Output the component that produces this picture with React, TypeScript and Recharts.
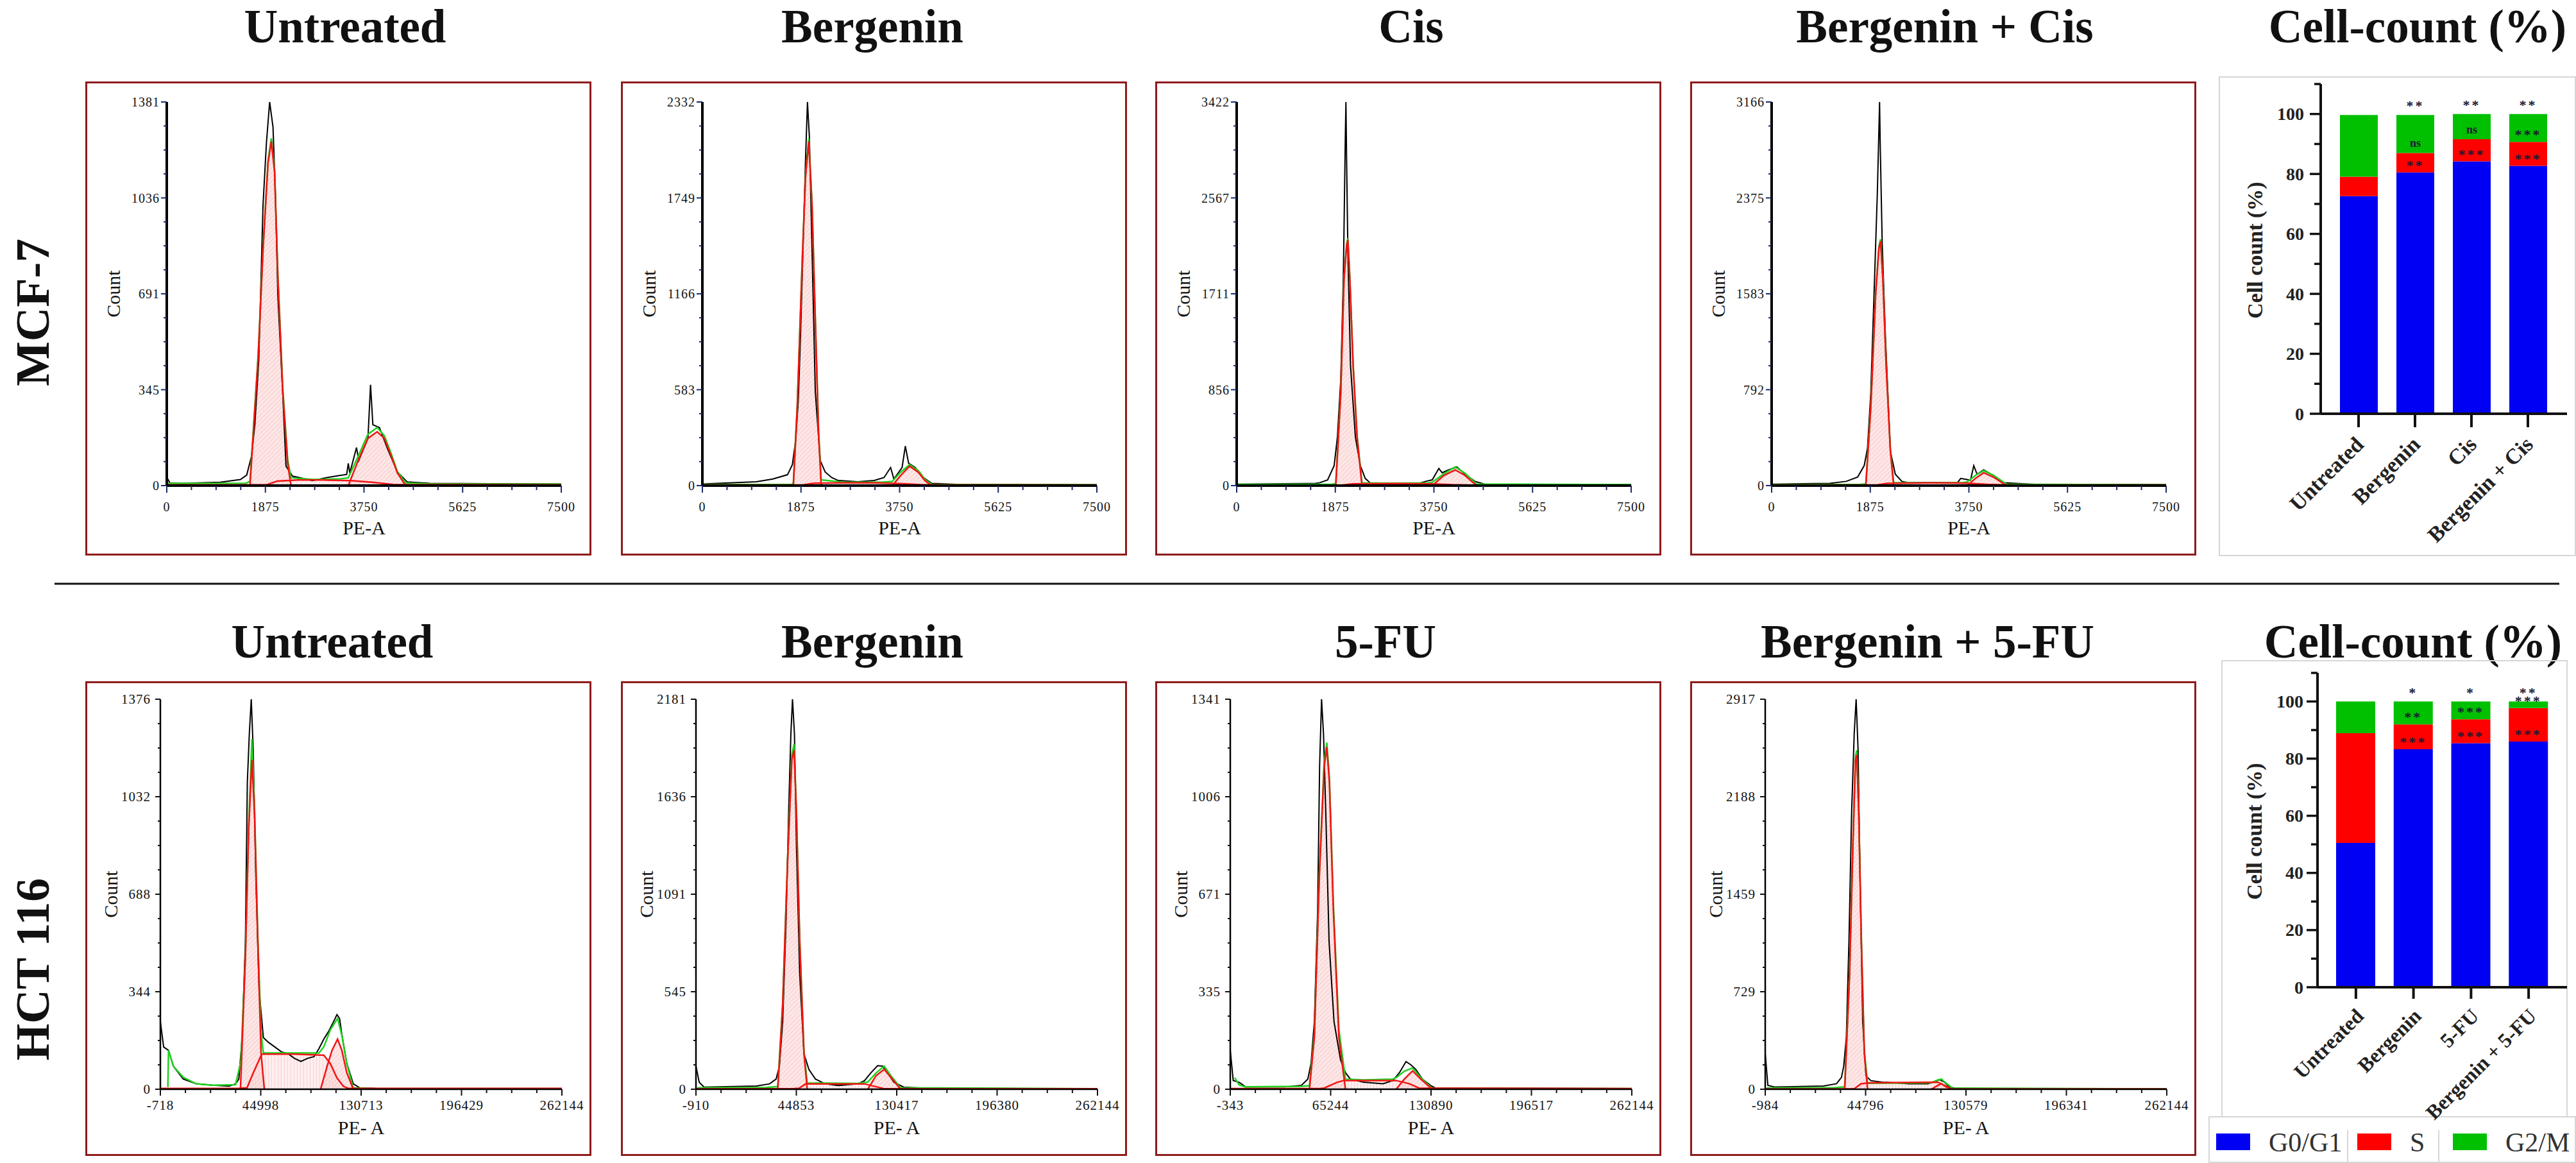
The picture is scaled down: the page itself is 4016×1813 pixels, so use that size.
import React from 'react'
import {
  ComposedChart,
  Area,
  Line,
  XAxis,
  YAxis,
  BarChart,
  Bar,
  LabelList,
} from 'recharts'

type Pt = [number, number]

const SERIF = "'Liberation Serif', 'Times New Roman', serif"
const BLUE = '#0000f2'
const RED = '#ff0000'
const GREEN = '#00c000'
const FIT_RED = '#f01515'
const FIT_GREEN = '#20d020'
const FRAME = '#8e1b1b'

// ---------- MCF-7 cell-cycle histograms (PE-A 0 – 7500) ----------
const mcfXLabels = ['0', '1875', '3750', '5625', '7500']

const mcfUntreatedY = ['0', '345', '691', '1036', '1381']
const mcfUntreatedRaw: Pt[] = [[0, 30], [60, 10], [300, 8], [1020, 12], [1400, 22], [1520, 38], [1610, 105], [1675, 220], [1750, 455], [1830, 1010], [1895, 1235], [1956, 1381], [2020, 1290], [2068, 1036], [2112, 680], [2205, 330], [2267, 70], [2390, 34], [2520, 29], [2770, 18], [3015, 28], [3265, 36], [3420, 40], [3451, 80], [3480, 45], [3607, 137], [3650, 90], [3825, 170], [3874, 363], [3918, 219], [4043, 209], [4198, 132], [4385, 49], [4572, 13], [5000, 8], [7500, 6]]
const mcfUntreatedFit: Pt[] = [[0, 8], [1500, 8], [1582, 15], [1738, 470], [1831, 860], [1925, 1170], [1987, 1250], [2049, 1140], [2112, 760], [2205, 350], [2298, 95], [2361, 28], [2800, 22], [3300, 24], [3451, 28], [3638, 105], [3825, 185], [4000, 209], [4136, 180], [4261, 118], [4385, 50], [4541, 10], [5000, 6], [7500, 5]]
const mcfUntreatedG1: Pt[] = [[1582, 0], [1738, 461], [1831, 852], [1925, 1161], [1987, 1239], [2049, 1131], [2112, 750], [2205, 340], [2298, 80], [2361, 0]]
const mcfUntreatedS: Pt[] = [[0, 3], [1900, 3], [2100, 16], [2500, 20], [3000, 20], [3500, 18], [3900, 12], [4300, 4], [7500, 3]]
const mcfUntreatedG2: Pt[] = [[3451, 0], [3638, 90], [3825, 170], [4000, 194], [4136, 170], [4261, 110], [4385, 45], [4541, 0]]

const mcfBergeninY = ['0', '583', '1166', '1749', '2332']
const mcfBergeninRaw: Pt[] = [[0, 10], [1027, 23], [1338, 40], [1618, 66], [1711, 127], [1774, 275], [1824, 518], [1867, 918], [1929, 1614], [1961, 1979], [1998, 2332], [2035, 2118], [2085, 1440], [2147, 570], [2241, 153], [2334, 83], [2458, 49], [2583, 31], [2956, 23], [3268, 31], [3454, 49], [3579, 110], [3641, 40], [3797, 110], [3859, 240], [3921, 136], [4046, 110], [4201, 49], [4357, 14], [5000, 6], [7500, 5]]
const mcfBergeninFit: Pt[] = [[0, 6], [1700, 8], [1730, 15], [1805, 495], [1898, 1365], [1961, 1890], [2023, 2110], [2085, 1715], [2147, 1020], [2210, 325], [2259, 35], [2700, 20], [3400, 20], [3610, 25], [3766, 80], [3940, 127], [4108, 90], [4232, 38], [4357, 8], [7500, 5]]
const mcfBergeninG1: Pt[] = [[1730, 0], [1805, 483], [1898, 1353], [1961, 1875], [2023, 2092], [2085, 1701], [2147, 1005], [2210, 310], [2259, 0]]
const mcfBergeninS: Pt[] = [[0, 4], [1900, 4], [2100, 14], [2600, 17], [3300, 17], [3800, 12], [4200, 5], [7500, 4]]
const mcfBergeninG2: Pt[] = [[3610, 0], [3766, 60], [3940, 118], [4108, 80], [4232, 30], [4357, 0]]

const mcfCisY = ['0', '856', '1711', '2567', '3422']
const mcfCisRaw: Pt[] = [[0, 13], [1500, 20], [1573, 25], [1729, 51], [1853, 178], [1915, 433], [1978, 943], [2027, 1836], [2065, 3100], [2077, 3422], [2090, 2900], [2114, 2091], [2164, 1071], [2257, 433], [2351, 178], [2444, 64], [2537, 25], [2662, 20], [3470, 20], [3595, 38], [3719, 51], [3843, 153], [3906, 115], [4030, 140], [4185, 166], [4341, 102], [4528, 38], [4714, 13], [7500, 8]]
const mcfCisFit: Pt[] = [[0, 10], [1800, 12], [1884, 18], [1978, 830], [2040, 1850], [2090, 2155], [2114, 2206], [2152, 1850], [2214, 1085], [2289, 445], [2382, 25], [3000, 20], [3650, 25], [3719, 30], [3937, 105], [4154, 166], [4341, 110], [4559, 15], [7500, 8]]
const mcfCisG1: Pt[] = [[1884, 0], [1978, 816], [2040, 1836], [2090, 2142], [2114, 2193], [2152, 1836], [2214, 1071], [2289, 433], [2382, 0]]
const mcfCisS: Pt[] = [[0, 5], [2000, 5], [2200, 16], [3000, 18], [3700, 16], [4100, 8], [4500, 5], [7500, 5]]
const mcfCisG2: Pt[] = [[3719, 0], [3937, 90], [4154, 140], [4341, 90], [4559, 0]]

const mcfComboY = ['0', '792', '1583', '2375', '3166']
const mcfComboRaw: Pt[] = [[0, 12], [1107, 19], [1418, 35], [1636, 71], [1760, 165], [1822, 307], [1884, 755], [1947, 1581], [2009, 2406], [2040, 2950], [2052, 3166], [2065, 2800], [2102, 2000], [2164, 1227], [2258, 283], [2351, 94], [2475, 35], [2600, 24], [3532, 24], [3595, 59], [3781, 45], [3843, 165], [3906, 94], [4030, 130], [4217, 83], [4403, 24], [5000, 10], [7500, 8]]
const mcfComboFit: Pt[] = [[0, 8], [1700, 10], [1791, 15], [1884, 650], [1978, 1600], [2040, 1975], [2071, 2033], [2115, 1715], [2177, 1005], [2258, 295], [2320, 25], [3000, 22], [3650, 25], [3719, 30], [3875, 85], [4030, 123], [4217, 85], [4465, 12], [7500, 6]]
const mcfComboG1: Pt[] = [[1791, 0], [1884, 637], [1978, 1581], [2040, 1958], [2071, 2017], [2115, 1699], [2177, 991], [2258, 283], [2320, 0]]
const mcfComboS: Pt[] = [[0, 5], [2000, 5], [2200, 18], [3000, 22], [3700, 20], [4100, 10], [4500, 5], [7500, 5]]
const mcfComboG2: Pt[] = [[3719, 0], [3875, 60], [4030, 106], [4217, 70], [4465, 0]]

// ---------- HCT 116 cell-cycle histograms (PE-A up to 262144) ----------
const hctUntreatedX = ['-718', '44998', '130713', '196429', '262144']
const hctUntreatedY = ['0', '344', '688', '1032', '1376']
const hctUntreatedRaw: Pt[] = [[-718, 239], [1423, 149], [4633, 137], [7844, 81], [14266, 36], [22829, 19], [33532, 14], [44235, 11], [48516, 19], [50656, 36], [52797, 182], [54938, 520], [56222, 1083], [57506, 1252], [58791, 1376], [60075, 1196], [61787, 745], [63928, 351], [66710, 182], [69921, 166], [74203, 149], [78484, 132], [82765, 126], [87047, 109], [91328, 98], [95609, 109], [99890, 115], [103101, 143], [106312, 177], [109523, 205], [112734, 239], [114875, 263], [116587, 250], [118086, 194], [121297, 92], [125578, 19], [129859, 5], [140000, 3], [262144, 2]]
const hctUntreatedFit: Pt[] = [[4200, 8], [4633, 137], [7844, 81], [14266, 42], [22829, 19], [33532, 14], [48516, 16], [52000, 100], [54938, 470], [57079, 930], [59220, 1235], [60931, 990], [63072, 540], [65212, 200], [66710, 128], [87047, 128], [103101, 128], [106312, 150], [110593, 210], [115303, 250], [118086, 190], [121297, 90], [125578, 5], [140000, 2], [262144, 2]]
const hctUntreatedG1: Pt[] = [[51726, 0], [54938, 464], [57079, 914], [59220, 1162], [60931, 972], [63072, 520], [65212, 126], [67353, 0]]
const hctUntreatedS: Pt[] = [[-718, 3], [50000, 3], [55994, 5], [60286, 60], [65640, 124], [87047, 124], [106312, 120], [110593, 90], [114875, 40], [119156, 10], [122367, 3], [262144, 3]]
const hctUntreatedG2: Pt[] = [[104171, 0], [108453, 81], [111664, 137], [115303, 177], [118086, 137], [121297, 59], [125578, 0]]

const hctBergeninX = ['-910', '44853', '130417', '196380', '262144']
const hctBergeninY = ['0', '545', '1091', '1636', '2181']
const hctBergeninRaw: Pt[] = [[-910, 129], [1234, 39], [4450, 12], [38754, 18], [47330, 30], [51618, 57], [53762, 129], [55906, 378], [58050, 914], [59765, 1539], [61266, 1985], [62338, 2181], [63624, 1985], [64911, 1360], [67055, 646], [69842, 200], [73058, 111], [77346, 57], [83778, 30], [92354, 21], [105218, 30], [109506, 48], [113794, 93], [118082, 132], [121298, 129], [124514, 93], [128802, 39], [135234, 12], [150000, 5], [262144, 3]]
const hctBergeninFit: Pt[] = [[0, 8], [45000, 10], [52690, 15], [55906, 480], [59122, 1290], [61909, 1870], [63410, 1931], [64911, 1560], [67055, 840], [69842, 215], [71986, 35], [105000, 32], [111650, 40], [117010, 90], [122370, 129], [127730, 65], [133090, 8], [262144, 3]]
const hctBergeninG1: Pt[] = [[52690, 0], [55906, 468], [59122, 1271], [61909, 1842], [63410, 1896], [64911, 1539], [67055, 825], [69842, 200], [71986, 0]]
const hctBergeninS: Pt[] = [[-910, 3], [62000, 3], [66626, 5], [70914, 30], [109506, 30], [118082, 12], [122370, 3], [262144, 3]]
const hctBergeninG2: Pt[] = [[111650, 0], [117010, 75], [122370, 111], [127730, 57], [133090, 0]]

const hctFuX = ['-343', '65244', '130890', '196517', '262144']
const hctFuY = ['0', '335', '671', '1006', '1341']
const hctFuRaw: Pt[] = [[-343, 134], [1582, 30], [5432, 24], [9710, 8], [35378, 8], [46073, 13], [50351, 35], [52490, 90], [54629, 233], [56768, 617], [58052, 1110], [59335, 1341], [60619, 1220], [62116, 946], [64255, 507], [67464, 233], [71742, 101], [74950, 57], [78159, 35], [86715, 24], [99549, 19], [105966, 30], [110244, 57], [114522, 95], [117731, 84], [120939, 68], [125217, 35], [130565, 13], [133773, 4], [262144, 2]]
const hctFuFit: Pt[] = [[2500, 40], [5432, 15], [9710, 8], [46073, 10], [51421, 12], [54629, 190], [57838, 740], [61046, 1125], [62757, 1192], [64468, 1070], [67036, 640], [70672, 205], [74950, 35], [86715, 32], [105966, 35], [108104, 40], [113451, 62], [118799, 73], [124146, 40], [131633, 3], [262144, 2]]
const hctFuG1: Pt[] = [[51421, 0], [54629, 178], [57838, 726], [61046, 1110], [62757, 1176], [64468, 1055], [67036, 617], [70672, 178], [74950, 0]]
const hctFuS: Pt[] = [[-343, 2], [58000, 2], [61046, 4], [69602, 24], [73880, 30], [108104, 30], [116660, 19], [123077, 4], [262144, 2]]
const hctFuG2: Pt[] = [[108104, 0], [113451, 35], [118799, 63], [124146, 35], [131633, 0]]

const hctComboX = ['-984', '44796', '130579', '196341', '262144']
const hctComboY = ['0', '729', '1459', '2188', '2917']
const hctComboRaw: Pt[] = [[-984, 267], [730, 29], [5016, 17], [37161, 24], [45733, 41], [48947, 88], [50447, 172], [52162, 387], [53876, 1103], [55591, 2058], [57305, 2654], [58591, 2917], [59877, 2535], [61163, 1580], [62877, 506], [65020, 100], [68231, 64], [75731, 53], [84303, 48], [92875, 41], [105733, 41], [110019, 57], [113233, 72], [116448, 53], [119662, 17], [125020, 5], [262144, 3]]
const hctComboFit: Pt[] = [[0, 10], [45000, 12], [51090, 18], [54305, 880], [56448, 1840], [58162, 2490], [59019, 2535], [60305, 2080], [62019, 1120], [63948, 290], [66091, 45], [107880, 48], [112162, 70], [114449, 76], [117519, 45], [121805, 8], [262144, 3]]
const hctComboG1: Pt[] = [[51090, 0], [54305, 864], [56448, 1819], [58162, 2463], [59019, 2499], [60305, 2058], [62019, 1103], [63948, 267], [66091, 0]]
const hctComboS: Pt[] = [[-984, 3], [56000, 3], [57520, 5], [61806, 41], [67163, 48], [112162, 53], [116448, 29], [120734, 3], [262144, 3]]
const hctComboG2: Pt[] = [[107880, 0], [112162, 29], [114449, 41], [117519, 17], [121805, 0]]

// ---------- stacked phase distribution (%) ----------
const mcfGroups = ['Untreated', 'Bergenin', 'Cis', 'Bergenin + Cis']
const mcfG1 = [72.6, 80.5, 84.2, 82.7]
const mcfS = [6.5, 6.5, 7.4, 8.0]
const mcfG2 = [20.6, 12.7, 8.4, 9.3]
const mcfSSig = ['', '**', '***', '***']
const mcfG2Sig = ['', 'ns', 'ns', '***']
const mcfTopSig = ['', '**', '**', '**']

const hctGroups = ['Untreated', 'Bergenin', '5-FU', 'Bergenin + 5-FU']
const hctG1 = [50.5, 83.3, 85.4, 86.0]
const hctS = [38.4, 8.7, 8.4, 11.7]
const hctG2 = [11.1, 8.0, 6.2, 2.3]
const hctSSig = ['', '***', '***', '***']
const hctG2Sig = ['', '**', '***', '***']
const hctTopSig = ['', '*', '*', '**']

const barTicks = [0, 10, 20, 30, 40, 50, 60, 70, 80, 90, 100, 110]
const legendItems = [
  { label: 'G0/G1', color: BLUE },
  { label: 'S', color: RED },
  { label: 'G2/M', color: GREEN },
]

const mcfTitles = ['Untreated', 'Bergenin', 'Cis', 'Bergenin + Cis', 'Cell-count (%)']
const hctTitles = ['Untreated', 'Bergenin', '5-FU', 'Bergenin + 5-FU', 'Cell-count (%)']

// ---------- layout ----------
interface PanelLayout {
  top: number
  w: number
  h: number
  plotLeft: number
  plotTop: number
  plotW: number
  plotH: number
  tickColor: string
  axisWidth: number
  tickFont: number
  xLabelGap: number
  yLabelGap: number
  majorTick: number
  minorTick: number
  countX: number
  xTitleGap: number
  xTitle: string
}

const ROW1: PanelLayout = {
  top: 127, w: 789, h: 739, plotLeft: 127, plotTop: 32, plotW: 615, plotH: 598,
  tickColor: '#1b2a6b', axisWidth: 4, tickFont: 20, xLabelGap: 33, yLabelGap: 11,
  majorTick: 9, minorTick: 5, countX: 44, xTitleGap: 66, xTitle: 'PE-A',
}
const ROW2: PanelLayout = {
  top: 1062, w: 789, h: 740, plotLeft: 117, plotTop: 28, plotW: 626, plotH: 608,
  tickColor: '#111', axisWidth: 2.5, tickFont: 21, xLabelGap: 25, yLabelGap: 15,
  majorTick: 8, minorTick: 4, countX: 40, xTitleGap: 60, xTitle: 'PE- A',
}
const panelLefts = [133, 968, 1801, 2635]

function mergeSeries(series: Record<string, Pt[]>) {
  const rows = new Map<number, Record<string, number>>()
  for (const [key, pts] of Object.entries(series)) {
    for (const [x, y] of pts) {
      const row = rows.get(x) ?? { x }
      row[key] = y
      rows.set(x, row)
    }
  }
  return [...rows.values()].sort((a, b) => a.x - b.x)
}

const sixteenths = (lo: number, hi: number) =>
  Array.from({ length: 17 }, (_, i) => lo + ((hi - lo) * i) / 16)

interface HistProps {
  id: string
  left: number
  L: PanelLayout
  xMin: number
  xMax: number
  xLabels: string[]
  yLabels: string[]
  raw: Pt[]
  fit: Pt[]
  g1: Pt[]
  s: Pt[]
  g2: Pt[]
  sVertical?: boolean
}

function Histogram({ id, left, L, xMin, xMax, xLabels, yLabels, raw, fit, g1, s, g2, sVertical }: HistProps) {
  const yMax = Number(yLabels[4])
  const rows = mergeSeries({ raw, fit, g1, s, g2 })
  const xTicks = sixteenths(xMin, xMax)
  const yTicks = sixteenths(0, yMax)

  const xTick = (props: any) => {
    const { x, y, payload } = props
    const i = Math.round(((payload.value - xMin) / (xMax - xMin)) * 16)
    const major = i % 4 === 0
    return (
      <g>
        <line x1={x} x2={x} y1={y} y2={y + (major ? L.majorTick : L.minorTick) + 2} stroke={L.tickColor} strokeWidth={2} />
        {major && (
          <text x={x} y={y + L.xLabelGap} textAnchor="middle" dominantBaseline="central"
            fontFamily={SERIF} fontSize={L.tickFont} fill="#111" letterSpacing={1}>
            {xLabels[i / 4]}
          </text>
        )}
      </g>
    )
  }

  const yTick = (props: any) => {
    const { x, y, payload } = props
    const i = Math.round((payload.value / yMax) * 16)
    const major = i % 4 === 0
    return (
      <g>
        <line x1={x - (major ? L.majorTick : L.minorTick)} x2={x} y1={y} y2={y} stroke={L.tickColor} strokeWidth={2} />
        {major && (
          <text x={x - L.yLabelGap} y={y} textAnchor="end" dominantBaseline="central"
            fontFamily={SERIF} fontSize={L.tickFont} fill="#111" letterSpacing={1}>
            {yLabels[i / 4]}
          </text>
        )}
      </g>
    )
  }

  const hatch = `hatch-${id}`
  const sHatch = `shatch-${id}`

  return (
    <div style={{ position: 'absolute', left, top: L.top, width: L.w, height: L.h }}>
      <div style={{ position: 'absolute', inset: 0, border: `3px solid ${FRAME}`, boxSizing: 'border-box' }} />
      <div style={{ position: 'absolute', left: 0, top: 0 }}>
        <ComposedChart
          width={L.w}
          height={L.h}
          data={rows}
          margin={{ top: L.plotTop, right: L.w - L.plotLeft - L.plotW, bottom: 0, left: 0 }}
        >
          <defs>
            <pattern id={hatch} width="5" height="5" patternUnits="userSpaceOnUse" patternTransform="rotate(45)">
              <rect width="5" height="5" fill="#fbd6d6" />
              <line x1="0" y1="0" x2="0" y2="5" stroke="#f29a9a" strokeWidth="1.5" />
            </pattern>
            <pattern id={sHatch} width="5" height="5" patternUnits="userSpaceOnUse"
              patternTransform={sVertical ? undefined : 'rotate(45)'}>
              <rect width="5" height="5" fill="#fde4e4" />
              <line x1="0" y1="0" x2="0" y2="5" stroke="#f4a0a0" strokeWidth="1.5" />
            </pattern>
          </defs>
          <XAxis
            type="number"
            dataKey="x"
            domain={[xMin, xMax]}
            ticks={xTicks}
            interval={0}
            allowDataOverflow
            height={L.h - L.plotTop - L.plotH}
            tickSize={0}
            tickMargin={0}
            tickLine={false}
            axisLine={{ stroke: '#000', strokeWidth: L.axisWidth }}
            tick={xTick}
          />
          <YAxis
            type="number"
            domain={[0, yMax]}
            ticks={yTicks}
            interval={0}
            allowDataOverflow
            width={L.plotLeft}
            tickSize={0}
            tickMargin={0}
            tickLine={false}
            axisLine={{ stroke: '#000', strokeWidth: L.axisWidth }}
            tick={yTick}
          />
          <Area dataKey="s" type="linear" connectNulls fill={`url(#${sHatch})`} stroke="none" isAnimationActive={false} />
          <Area dataKey="g1" type="linear" connectNulls fill={`url(#${hatch})`} stroke="none" isAnimationActive={false} />
          <Area dataKey="g2" type="linear" connectNulls fill={`url(#${hatch})`} stroke="none" isAnimationActive={false} />
          <Line dataKey="raw" type="linear" connectNulls stroke="#000" strokeWidth={2} dot={false} activeDot={false} isAnimationActive={false} />
          <Line dataKey="fit" type="linear" connectNulls stroke={FIT_GREEN} strokeWidth={2.5} dot={false} activeDot={false} isAnimationActive={false} />
          <Line dataKey="s" type="linear" connectNulls stroke={FIT_RED} strokeWidth={2.5} dot={false} activeDot={false} isAnimationActive={false} />
          <Line dataKey="g1" type="linear" connectNulls stroke={FIT_RED} strokeWidth={2.5} dot={false} activeDot={false} isAnimationActive={false} />
          <Line dataKey="g2" type="linear" connectNulls stroke={FIT_RED} strokeWidth={2.5} dot={false} activeDot={false} isAnimationActive={false} />
        </ComposedChart>
      </div>
      <div
        style={{
          position: 'absolute', left: L.countX, top: L.plotTop + L.plotH / 2,
          transform: 'translate(-50%, -50%) rotate(-90deg)', fontFamily: SERIF, fontSize: 30,
          lineHeight: 1, whiteSpace: 'nowrap', color: '#111',
        }}
      >
        Count
      </div>
      <div
        style={{
          position: 'absolute', left: L.plotLeft + L.plotW / 2, top: L.plotTop + L.plotH + L.xTitleGap,
          transform: 'translate(-50%, -50%)', fontFamily: SERIF, fontSize: 30,
          lineHeight: 1, whiteSpace: 'nowrap', color: '#111',
        }}
      >
        {L.xTitle}
      </div>
    </div>
  )
}

// ---------- stacked bar panels ----------
interface BarLayout {
  left: number
  top: number
  w: number
  h: number
  plotLeft: number
  plotTop: number
  plotW: number
  plotH: number
  padL: number
  padR: number
  barSize: number
  yLabelGap: number
  tickLen: number
  catFont: number
  catDx: number
}

// the chart area runs past the grey frame so the slanted group names are not clipped
const BARS1: BarLayout = { left: 3460, top: 120, w: 556, h: 746, plotLeft: 158, plotTop: 11, plotW: 384, plotH: 514, padL: 15, padR: 17, barSize: 59, yLabelGap: 26, tickLen: 21, catFont: 34, catDx: 10 }
const BARS2: BarLayout = { left: 3464, top: 1030, w: 552, h: 783, plotLeft: 149, plotTop: 19, plotW: 389, plotH: 490, padL: 15, padR: 15, barSize: 61, yLabelGap: 22, tickLen: 18, catFont: 32, catDx: 14 }

const sigText = (v: string, x: number, y: number) => (
  <text x={x} y={y} textAnchor="middle" fontFamily={SERIF} fontWeight="bold"
    fontSize={v.includes('*') ? 22 : 18} letterSpacing={v.includes('*') ? 3 : 0} fill="#1a1a33">
    {v}
  </text>
)

const insideSig = (props: any) => {
  const { value } = props
  if (!value) return null
  const vb = props.viewBox ?? props
  const { x, y, width, height } = vb
  const bottom = y + height
  return sigText(value, x + width / 2, bottom - (String(value).includes('*') ? 4 : 9))
}

const topSig = (props: any) => {
  const { value } = props
  if (!value) return null
  const vb = props.viewBox ?? props
  const { x, y, width } = vb
  return sigText(value, x + width / 2, y - 7)
}

function PhaseBars({ B, groups, g1, s, g2, sSig, g2Sig, top }: {
  B: BarLayout; groups: string[]; g1: number[]; s: number[]; g2: number[]
  sSig: string[]; g2Sig: string[]; top: string[]
}) {
  const data = groups.map((name, i) => ({
    name, g1: g1[i], s: s[i], g2: g2[i], sSig: sSig[i], g2Sig: g2Sig[i], topSig: top[i],
  }))

  const yTick = (props: any) => {
    const { x, y, payload } = props
    const v = payload.value
    const major = v % 20 === 0 && v <= 100
    return (
      <g>
        <line x1={x - (major ? 17 : 10)} x2={x} y1={y} y2={y} stroke="#111" strokeWidth={3.5} />
        {major && (
          <text x={x - B.yLabelGap} y={y} textAnchor="end" dominantBaseline="central"
            fontFamily={SERIF} fontWeight="bold" fontSize={28} fill="#222">
            {v}
          </text>
        )}
      </g>
    )
  }

  const xTick = (props: any) => {
    const { x, y, payload } = props
    const px = x + B.catDx
    const py = y + 29
    return (
      <text x={px} y={py} transform={`rotate(-45 ${px} ${py})`} textAnchor="end"
        fontFamily={SERIF} fontWeight="bold" fontSize={B.catFont} fill="#222">
        {payload.value}
      </text>
    )
  }

  return (
    <div style={{ position: 'absolute', left: B.left, top: B.top }}>
      <BarChart
        width={B.w}
        height={B.h}
        data={data}
        barSize={B.barSize}
        margin={{ top: B.plotTop, right: B.w - B.plotLeft - B.plotW, bottom: 0, left: 0 }}
      >
        <XAxis
          dataKey="name"
          type="category"
          interval={0}
          height={B.h - B.plotTop - B.plotH}
          padding={{ left: B.padL, right: B.padR }}
          tickSize={B.tickLen}
          tickMargin={0}
          tickLine={{ stroke: '#111', strokeWidth: 4 }}
          axisLine={{ stroke: '#111', strokeWidth: 4 }}
          tick={xTick}
        />
        <YAxis
          type="number"
          domain={[0, 110]}
          ticks={barTicks}
          interval={0}
          width={B.plotLeft}
          tickSize={0}
          tickMargin={0}
          tickLine={false}
          axisLine={{ stroke: '#111', strokeWidth: 4 }}
          tick={yTick}
        />
        <Bar dataKey="g1" stackId="phase" fill={BLUE} isAnimationActive={false} />
        <Bar dataKey="s" stackId="phase" fill={RED} isAnimationActive={false}>
          <LabelList dataKey="sSig" content={insideSig} />
        </Bar>
        <Bar dataKey="g2" stackId="phase" fill={GREEN} isAnimationActive={false}>
          <LabelList dataKey="g2Sig" content={insideSig} />
          <LabelList dataKey="topSig" content={topSig} />
        </Bar>
      </BarChart>
    </div>
  )
}

const titleX1 = [538, 1360, 2200, 3032, 3769]
const titleX2 = [518, 1360, 2160, 3005, 3762]

export default function App() {
  return (
    <div style={{ position: 'absolute', left: 0, top: 0, width: 4016, height: 1813, background: '#fff', overflow: 'hidden' }}>
      <svg width={4016} height={1813} style={{ position: 'absolute', left: 0, top: 0 }}>
        <g fontFamily={SERIF} fontWeight="bold" fontSize={73} fill="#111" textAnchor="middle">
          {mcfTitles.map((t, i) => (
            <text key={`t1-${i}`} x={titleX1[i]} y={66}>{t}</text>
          ))}
          {hctTitles.map((t, i) => (
            <text key={`t2-${i}`} x={titleX2[i]} y={1025}>{t}</text>
          ))}
          <text x={51} y={487} transform="rotate(-90 51 487)" dominantBaseline="central" fontSize={74}>MCF-7</text>
          <text x={51} y={1511} transform="rotate(-90 51 1511)" dominantBaseline="central" fontSize={74}>HCT 116</text>
        </g>
        <line x1={85} x2={3990} y1={910} y2={910} stroke="#111" strokeWidth={3} />

        {/* frames round the stacked bar panels */}
        <rect x={3460} y={120} width={555} height={746} fill="none" stroke="#d6d6d6" strokeWidth={2} />
        <rect x={3464} y={1030} width={538} height={716} fill="none" stroke="#d6d6d6" strokeWidth={2} />
        <g fontFamily={SERIF} fontWeight="bold" fontSize={34} fill="#222" textAnchor="middle">
          <text x={3515} y={390} transform="rotate(-90 3515 390)" dominantBaseline="central">Cell count (%)</text>
          <text x={3514} y={1296} transform="rotate(-90 3514 1296)" dominantBaseline="central">Cell count (%)</text>
        </g>

        {/* phase legend */}
        <rect x={3444} y={1741} width={571} height={71} fill="#fff" stroke="#d6d6d6" strokeWidth={2} />
        <line x1={3660} x2={3660} y1={1762} y2={1813} stroke="#d6d6d6" strokeWidth={2} />
        <line x1={3802} x2={3802} y1={1762} y2={1813} stroke="#d6d6d6" strokeWidth={2} />
        {legendItems.map((item, i) => {
          const x0 = [3455, 3675, 3824][i]
          return (
            <g key={item.label}>
              <rect x={x0} y={1767} width={53} height={26} fill={item.color} />
              <text x={x0 + 82} y={1795} fontFamily={SERIF} fontSize={42} fill="#333">{item.label}</text>
            </g>
          )
        })}
      </svg>

      <Histogram id="m1" left={panelLefts[0]} L={ROW1} xMin={0} xMax={7500} xLabels={mcfXLabels} yLabels={mcfUntreatedY}
        raw={mcfUntreatedRaw} fit={mcfUntreatedFit} g1={mcfUntreatedG1} s={mcfUntreatedS} g2={mcfUntreatedG2} />
      <Histogram id="m2" left={panelLefts[1]} L={ROW1} xMin={0} xMax={7500} xLabels={mcfXLabels} yLabels={mcfBergeninY}
        raw={mcfBergeninRaw} fit={mcfBergeninFit} g1={mcfBergeninG1} s={mcfBergeninS} g2={mcfBergeninG2} />
      <Histogram id="m3" left={panelLefts[2]} L={ROW1} xMin={0} xMax={7500} xLabels={mcfXLabels} yLabels={mcfCisY}
        raw={mcfCisRaw} fit={mcfCisFit} g1={mcfCisG1} s={mcfCisS} g2={mcfCisG2} />
      <Histogram id="m4" left={panelLefts[3]} L={ROW1} xMin={0} xMax={7500} xLabels={mcfXLabels} yLabels={mcfComboY}
        raw={mcfComboRaw} fit={mcfComboFit} g1={mcfComboG1} s={mcfComboS} g2={mcfComboG2} />

      <Histogram id="h1" left={panelLefts[0]} L={ROW2} xMin={-718} xMax={262144} xLabels={hctUntreatedX} yLabels={hctUntreatedY}
        raw={hctUntreatedRaw} fit={hctUntreatedFit} g1={hctUntreatedG1} s={hctUntreatedS} g2={hctUntreatedG2} sVertical />
      <Histogram id="h2" left={panelLefts[1]} L={ROW2} xMin={-910} xMax={262144} xLabels={hctBergeninX} yLabels={hctBergeninY}
        raw={hctBergeninRaw} fit={hctBergeninFit} g1={hctBergeninG1} s={hctBergeninS} g2={hctBergeninG2} sVertical />
      <Histogram id="h3" left={panelLefts[2]} L={ROW2} xMin={-343} xMax={262144} xLabels={hctFuX} yLabels={hctFuY}
        raw={hctFuRaw} fit={hctFuFit} g1={hctFuG1} s={hctFuS} g2={hctFuG2} sVertical />
      <Histogram id="h4" left={panelLefts[3]} L={ROW2} xMin={-984} xMax={262144} xLabels={hctComboX} yLabels={hctComboY}
        raw={hctComboRaw} fit={hctComboFit} g1={hctComboG1} s={hctComboS} g2={hctComboG2} sVertical />

      <PhaseBars B={BARS1} groups={mcfGroups} g1={mcfG1} s={mcfS} g2={mcfG2} sSig={mcfSSig} g2Sig={mcfG2Sig} top={mcfTopSig} />
      <PhaseBars B={BARS2} groups={hctGroups} g1={hctG1} s={hctS} g2={hctG2} sSig={hctSSig} g2Sig={hctG2Sig} top={hctTopSig} />
    </div>
  )
}
